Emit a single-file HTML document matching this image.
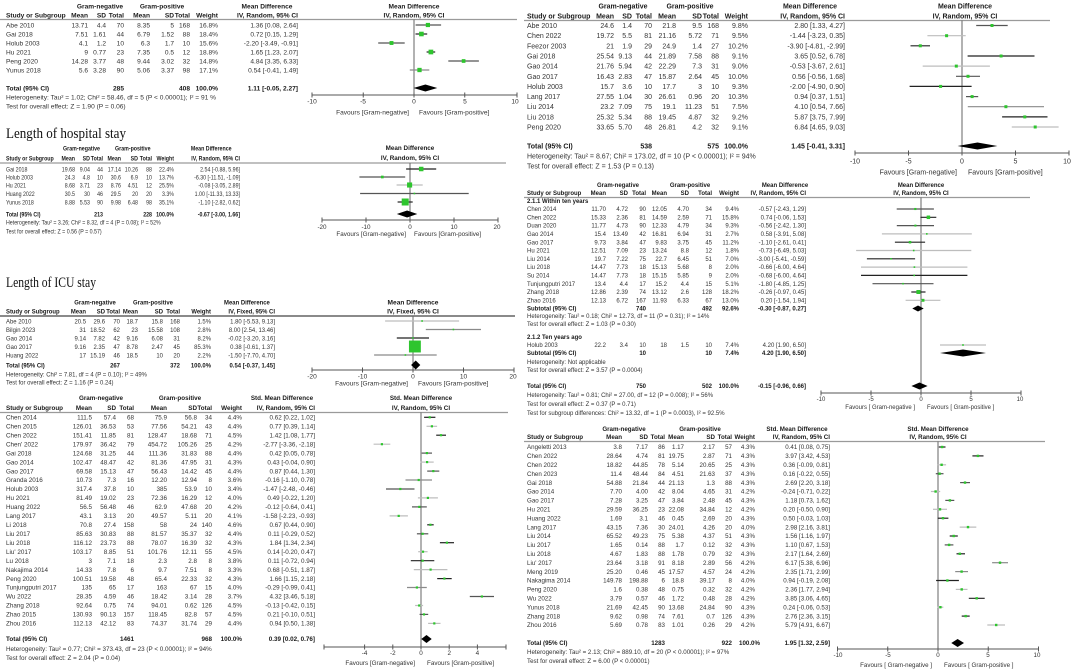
<!DOCTYPE html>
<html><head><meta charset="utf-8"><style>
html,body{margin:0;padding:0;background:#fff;}
svg{display:block}
text{font-family:"Liberation Sans",Arial,sans-serif;fill:#333}
.b{font-weight:bold;fill:#1a1a1a}
.e{text-anchor:end}
.m{text-anchor:middle}
.ti{font-family:"Liberation Serif","Times New Roman",serif;fill:#111;font-weight:normal}
.k{stroke:#222}.d{stroke:#555}.g{stroke:#8a8a8a}.l{stroke:#bdbdbd}
.ci line{stroke-width:1.2}
.sq rect{fill:#2ec52e}
.hd{stroke:#9a9a9a;stroke-width:1.3}
.ax{stroke:#555;stroke-width:1;fill:none}
.z{stroke:#666;stroke-width:1}
.dm{fill:#000}
</style></head><body>
<svg xmlns="http://www.w3.org/2000/svg" width="1080" height="672" viewBox="0 0 1080 672">
<rect width="1080" height="672" fill="#fff"/>

<!-- ================= PANEL A (top-left) ================= -->
<g font-size="6.6">
<text class="b m" y="8.3"><tspan x="100">Gram-negative</tspan><tspan x="162">Gram-positive</tspan><tspan x="267">Mean Difference</tspan><tspan x="414">Mean Difference</tspan></text>
<text class="b" x="6" y="17.3">Study or Subgroup</text>
<text class="b e" y="17.3"><tspan x="88">Mean</tspan><tspan x="106">SD</tspan><tspan x="124">Total</tspan><tspan x="150">Mean</tspan><tspan x="174">SD</tspan><tspan x="190">Total</tspan><tspan x="218">Weight</tspan><tspan x="298">IV, Random, 95% CI</tspan></text>
<text class="b m" x="414" y="17.3">IV, Random, 95% CI</text>

<text x="6" y="27.3">Abe 2010</text><text class="e" y="27.3"><tspan x="88">13.71</tspan><tspan x="106">4.4</tspan><tspan x="124">70</tspan><tspan x="150">8.35</tspan><tspan x="174">5</tspan><tspan x="190">168</tspan><tspan x="218">16.8%</tspan><tspan x="298">1.36 [0.08, 2.64]</tspan></text>
<text x="6" y="36.3">Gai 2018</text><text class="e" y="36.3"><tspan x="88">7.51</tspan><tspan x="106">1.61</tspan><tspan x="124">44</tspan><tspan x="150">6.79</tspan><tspan x="174">1.52</tspan><tspan x="190">88</tspan><tspan x="218">18.4%</tspan><tspan x="298">0.72 [0.15, 1.29]</tspan></text>
<text x="6" y="45.3">Holub 2003</text><text class="e" y="45.3"><tspan x="88">4.1</tspan><tspan x="106">1.2</tspan><tspan x="124">10</tspan><tspan x="150">6.3</tspan><tspan x="174">1.7</tspan><tspan x="190">10</tspan><tspan x="218">15.6%</tspan><tspan x="298">-2.20 [-3.49, -0.91]</tspan></text>
<text x="6" y="54.3">Hu 2021</text><text class="e" y="54.3"><tspan x="88">9</tspan><tspan x="106">0.77</tspan><tspan x="124">23</tspan><tspan x="150">7.35</tspan><tspan x="174">0.5</tspan><tspan x="190">12</tspan><tspan x="218">18.8%</tspan><tspan x="298">1.65 [1.23, 2.07]</tspan></text>
<text x="6" y="63.3">Peng 2020</text><text class="e" y="63.3"><tspan x="88">14.28</tspan><tspan x="106">3.77</tspan><tspan x="124">48</tspan><tspan x="150">9.44</tspan><tspan x="174">3.02</tspan><tspan x="190">32</tspan><tspan x="218">14.8%</tspan><tspan x="298">4.84 [3.35, 6.33]</tspan></text>
<text x="6" y="72.3">Yunus 2018</text><text class="e" y="72.3"><tspan x="88">5.6</tspan><tspan x="106">3.28</tspan><tspan x="124">90</tspan><tspan x="150">5.06</tspan><tspan x="174">3.37</tspan><tspan x="190">98</tspan><tspan x="218">17.1%</tspan><tspan x="298">0.54 [-0.41, 1.49]</tspan></text>
<text class="b" x="6" y="90.3">Total (95% CI)</text><text class="b e" y="90.3"><tspan x="124">285</tspan><tspan x="190">408</tspan><tspan x="218">100.0%</tspan><tspan x="298">1.11 [-0.05, 2.27]</tspan></text>
<text x="6" y="99.3">Heterogeneity: Tau² = 1.02; Chi² = 58.46, df = 5 (P &lt; 0.00001); I² = 91 %</text>
<text x="6" y="108.3">Test for overall effect: Z = 1.90 (P = 0.06)</text>

<text class="m" y="103.3"><tspan x="312">-10</tspan><tspan x="363">-5</tspan><tspan x="414">0</tspan><tspan x="465">5</tspan><tspan x="515">10</tspan></text>
<text class="e" x="409" y="114.3">Favours [Gram-negative]</text>
<text x="419" y="114.3">Favours [Gram-positive]</text>
</g>
<line class="hd" x1="0" y1="19.5" x2="517" y2="19.5"/>
<line class="z" x1="414" y1="19.5" x2="414" y2="95"/>
<path class="ax" d="M312 95H517M312 92.5V97.5M363.25 92.5V97.5M414 92.5V97.5M464.75 92.5V97.5M517 92.5V97.5"/>
<g class="ci">
<line class="d" x1="415.6" y1="25" x2="441.1" y2="25"/>
<line class="k" x1="415.5" y1="34" x2="427.2" y2="34"/>
<line class="d" x1="378.2" y1="43" x2="404.7" y2="43"/>
<line class="k" x1="426.6" y1="52" x2="435.2" y2="52"/>
<line class="d" x1="448.3" y1="61" x2="478.9" y2="61"/>
<line class="g" x1="409.8" y1="70" x2="429.3" y2="70"/>
</g>
<g class="sq">
<rect x="425.8" y="22.9" width="4.2" height="4.2"/>
<rect x="419.1" y="31.7" width="4.6" height="4.6"/>
<rect x="389.55" y="41.05" width="3.9" height="3.9"/>
<rect x="428.55" y="49.65" width="4.7" height="4.7"/>
<rect x="461.75" y="59.15" width="3.7" height="3.7"/>
<rect x="417.35" y="67.85" width="4.3" height="4.3"/>
</g>
<path class="dm" d="M413.5 88L425.4 84.5L437.3 88L425.4 91.5Z"/>

<!-- ================= PANEL B (hospital stay) ================= -->
<text class="ti" x="6" y="138" font-size="15" textLength="120" lengthAdjust="spacingAndGlyphs">Length of hospital stay</text>
<g font-size="6.6" transform="scale(0.8 1)">
<text class="b m" y="150.3"><tspan x="101.9">Gram-negative</tspan><tspan x="166">Gram-positive</tspan><tspan x="264">Mean Difference</tspan></text>
<text class="b" x="7.5" y="160.3">Study or Subgroup</text>
<text class="b e" y="160.3"><tspan x="93.75">Mean</tspan><tspan x="112.5">SD</tspan><tspan x="128.75">Total</tspan><tspan x="151.25">Mean</tspan><tspan x="172.5">SD</tspan><tspan x="190">Total</tspan><tspan x="217.5">Weight</tspan><tspan x="300">IV, Random, 95% CI</tspan></text>

<text x="7.5" y="171.3">Gai 2018</text><text class="e" y="171.3"><tspan x="93.75">19.68</tspan><tspan x="112.5">9.04</tspan><tspan x="128.75">44</tspan><tspan x="151.25">17.14</tspan><tspan x="172.5">10.26</tspan><tspan x="190">88</tspan><tspan x="217.5">22.4%</tspan><tspan x="300">2.54 [-0.88, 5.96]</tspan></text>
<text x="7.5" y="179.3">Holub 2003</text><text class="e" y="179.3"><tspan x="93.75">24.3</tspan><tspan x="112.5">4.8</tspan><tspan x="128.75">10</tspan><tspan x="151.25">30.6</tspan><tspan x="172.5">6.9</tspan><tspan x="190">10</tspan><tspan x="217.5">13.7%</tspan><tspan x="300">-6.30 [-11.51, -1.09]</tspan></text>
<text x="7.5" y="187.3">Hu 2021</text><text class="e" y="187.3"><tspan x="93.75">8.68</tspan><tspan x="112.5">3.71</tspan><tspan x="128.75">23</tspan><tspan x="151.25">8.76</tspan><tspan x="172.5">4.51</tspan><tspan x="190">12</tspan><tspan x="217.5">25.5%</tspan><tspan x="300">-0.08 [-3.05, 2.89]</tspan></text>
<text x="7.5" y="195.8">Huang 2022</text><text class="e" y="195.8"><tspan x="93.75">30.5</tspan><tspan x="112.5">30</tspan><tspan x="128.75">46</tspan><tspan x="151.25">29.5</tspan><tspan x="172.5">20</tspan><tspan x="190">20</tspan><tspan x="217.5">3.3%</tspan><tspan x="300">1.00 [-11.33, 13.33]</tspan></text>
<text x="7.5" y="204.3">Yunus 2018</text><text class="e" y="204.3"><tspan x="93.75">8.88</tspan><tspan x="112.5">5.53</tspan><tspan x="128.75">90</tspan><tspan x="151.25">9.98</tspan><tspan x="172.5">6.48</tspan><tspan x="190">98</tspan><tspan x="217.5">35.1%</tspan><tspan x="300">-1.10 [-2.82, 0.62]</tspan></text>
<text class="b" x="7.5" y="216.3">Total (95% CI)</text><text class="b e" y="216.3"><tspan x="128.75">213</tspan><tspan x="190">228</tspan><tspan x="217.5">100.0%</tspan><tspan x="300">-0.67 [-3.00, 1.66]</tspan></text>
<text x="7.5" y="224.3">Heterogeneity: Tau² = 3.26; Chi² = 8.32, df = 4 (P = 0.08); I² = 52%</text>
<text x="7.5" y="233.3">Test for overall effect: Z = 0.56 (P = 0.57)</text>
</g>
<g font-size="6.3">
<text class="b m" x="410" y="150.2">Mean Difference</text>
<text class="b m" x="410" y="160.2">IV, Random, 95% CI</text>
<text class="m" y="229.1"><tspan x="322">-20</tspan><tspan x="366">-10</tspan><tspan x="410">0</tspan><tspan x="454">10</tspan><tspan x="497">20</tspan></text>
<text class="e" x="406" y="236.1">Favours [Gram-negative]</text>
<text x="414" y="236.1">Favours [Gram-positive]</text>
</g>
<line class="hd" x1="0" y1="163" x2="506" y2="163"/>
<line class="z" x1="410" y1="163" x2="410" y2="220"/>
<path class="ax" d="M322 220H498M322 217.5V222.5M366 217.5V222.5M410 217.5V222.5M454 217.5V222.5M498 217.5V222.5"/>
<g class="ci">
<line class="k" x1="406.1" y1="169" x2="436.2" y2="169"/>
<line class="d" x1="359.4" y1="177" x2="405.2" y2="177"/>
<line class="l" x1="396.6" y1="185" x2="422.7" y2="185"/>
<line class="d" x1="360.1" y1="193.5" x2="468.7" y2="193.5"/>
<line class="k" x1="397.6" y1="202" x2="412.7" y2="202"/>
</g>
<g class="sq">
<rect x="418.95" y="166.75" width="4.5" height="4.5"/>
<rect x="380.95" y="175.65" width="2.7" height="2.7"/>
<rect x="407.05" y="182.45" width="5.1" height="5.1"/>
<rect x="413.6" y="192.7" width="1.6" height="1.6"/>
<rect x="401.7" y="198.5" width="7" height="7"/>
</g>
<path class="dm" d="M396.8 214L407.1 210.5L417.3 214L407.1 217.5Z"/>

<!-- ================= PANEL C (ICU stay) ================= -->
<text class="ti" x="6" y="287" font-size="15" textLength="90" lengthAdjust="spacingAndGlyphs">Length of ICU stay</text>
<g font-size="6.6" transform="scale(0.9 1)">
<text class="b m" y="304.3"><tspan x="105.6">Gram-negative</tspan><tspan x="170">Gram-positive</tspan><tspan x="274.4">Mean Difference</tspan></text>
<text class="b" x="6.67" y="313.3">Study or Subgroup</text>
<text class="b e" y="313.3"><tspan x="95.56">Mean</tspan><tspan x="116.67">SD</tspan><tspan x="133.33">Total</tspan><tspan x="153.33">Mean</tspan><tspan x="181.11">SD</tspan><tspan x="200">Total</tspan><tspan x="234.44">Weight</tspan><tspan x="305.56">IV, Fixed, 95% CI</tspan></text>

<text x="6.67" y="323.3">Abe 2010</text><text class="e" y="323.3"><tspan x="95.56">20.5</tspan><tspan x="116.67">29.6</tspan><tspan x="133.33">70</tspan><tspan x="153.33">18.7</tspan><tspan x="181.11">15.8</tspan><tspan x="200">168</tspan><tspan x="234.44">1.5%</tspan><tspan x="305.56">1.80 [-5.53, 9.13]</tspan></text>
<text x="6.67" y="331.8">Bilgin 2023</text><text class="e" y="331.8"><tspan x="95.56">31</tspan><tspan x="116.67">18.52</tspan><tspan x="133.33">62</tspan><tspan x="153.33">23</tspan><tspan x="181.11">15.58</tspan><tspan x="200">108</tspan><tspan x="234.44">2.8%</tspan><tspan x="305.56">8.00 [2.54, 13.46]</tspan></text>
<text x="6.67" y="340.3">Gao 2014</text><text class="e" y="340.3"><tspan x="95.56">9.14</tspan><tspan x="116.67">7.82</tspan><tspan x="133.33">42</tspan><tspan x="153.33">9.16</tspan><tspan x="181.11">6.08</tspan><tspan x="200">31</tspan><tspan x="234.44">8.2%</tspan><tspan x="305.56">-0.02 [-3.20, 3.16]</tspan></text>
<text x="6.67" y="348.8">Gao 2017</text><text class="e" y="348.8"><tspan x="95.56">9.16</tspan><tspan x="116.67">2.35</tspan><tspan x="133.33">47</tspan><tspan x="153.33">8.78</tspan><tspan x="181.11">2.47</tspan><tspan x="200">45</tspan><tspan x="234.44">85.3%</tspan><tspan x="305.56">0.38 [-0.61, 1.37]</tspan></text>
<text x="6.67" y="357.3">Huang 2022</text><text class="e" y="357.3"><tspan x="95.56">17</tspan><tspan x="116.67">15.19</tspan><tspan x="133.33">46</tspan><tspan x="153.33">18.5</tspan><tspan x="181.11">10</tspan><tspan x="200">20</tspan><tspan x="234.44">2.2%</tspan><tspan x="305.56">-1.50 [-7.70, 4.70]</tspan></text>
<text class="b" x="6.67" y="367.3">Total (95% CI)</text><text class="b e" y="367.3"><tspan x="133.33">267</tspan><tspan x="200">372</tspan><tspan x="234.44">100.0%</tspan><tspan x="305.56">0.54 [-0.37, 1.45]</tspan></text>
<text x="6.67" y="376.3">Heterogeneity: Chi² = 7.81, df = 4 (P = 0.10); I² = 49%</text>
<text x="6.67" y="384.3">Test for overall effect: Z = 1.16 (P = 0.24)</text>
</g>
<g font-size="6.6">
<text class="b m" x="413" y="304.3">Mean Difference</text>
<text class="b m" x="413" y="313.3">IV, Fixed, 95% CI</text>
<text class="m" y="378.3"><tspan x="312">-20</tspan><tspan x="362.5">-10</tspan><tspan x="413">0</tspan><tspan x="463.5">10</tspan><tspan x="513">20</tspan></text>
<text class="e" x="408" y="385.5">Favours [Gram-negative]</text>
<text x="418" y="385.5">Favours [Gram-positive]</text>
</g>
<line x1="0" y1="316" x2="515" y2="316" stroke="#444" stroke-width="1.2"/>
<line class="z" x1="413" y1="316" x2="413" y2="370"/>
<path class="ax" d="M312 370H514M312 367.5V372.5M362.5 367.5V372.5M413 367.5V372.5M463.5 367.5V372.5M514 367.5V372.5"/>
<g class="ci">
<line class="l" x1="385.1" y1="321" x2="459.1" y2="321"/>
<line class="g" x1="425.8" y1="329.5" x2="481" y2="329.5"/>
<line class="k" x1="396.8" y1="338" x2="429" y2="338"/>
<line class="g" x1="409.9" y1="346.5" x2="419.9" y2="346.5"/>
<line class="g" x1="374.1" y1="355" x2="436.7" y2="355"/>
</g>
<g class="sq">
<rect x="421.3" y="320.2" width="1.6" height="1.6"/>
<rect x="452.6" y="328.7" width="1.6" height="1.6"/>
<rect x="412.1" y="337.2" width="1.6" height="1.6"/>
<rect x="408.95" y="340.55" width="11.9" height="11.9"/>
<rect x="404.6" y="354.2" width="1.6" height="1.6"/>
</g>
<path class="dm" d="M411.1 365L415.7 360.5L420.3 365L415.7 369.5Z"/>

<!-- ================= PANEL D (bottom-left) ================= -->
<g font-size="6.3">
<text class="b m" y="400.2"><tspan x="101">Gram-negative</tspan><tspan x="180">Gram-positive</tspan><tspan x="282">Std. Mean Difference</tspan><tspan x="421">Std. Mean Difference</tspan></text>
<text class="b" x="6" y="410.2">Study or Subgroup</text>
<text class="b e" y="410.2"><tspan x="92">Mean</tspan><tspan x="116">SD</tspan><tspan x="134">Total</tspan><tspan x="167">Mean</tspan><tspan x="197">SD</tspan><tspan x="212">Total</tspan><tspan x="242">Weight</tspan><tspan x="315">IV, Random, 95% CI</tspan></text>
<text class="b m" x="421" y="410.2">IV, Random, 95% CI</text>

<text x="6" y="419.5">Chen 2014</text><text class="e" y="419.5"><tspan x="92">111.5</tspan><tspan x="116">57.4</tspan><tspan x="134">68</tspan><tspan x="167">75.9</tspan><tspan x="197">56.8</tspan><tspan x="212">34</tspan><tspan x="242">4.4%</tspan><tspan x="315">0.62 [0.22, 1.02]</tspan></text>
<text x="6" y="428.5">Chen 2015</text><text class="e" y="428.5"><tspan x="92">126.01</tspan><tspan x="116">36.53</tspan><tspan x="134">53</tspan><tspan x="167">77.56</tspan><tspan x="197">54.21</tspan><tspan x="212">43</tspan><tspan x="242">4.4%</tspan><tspan x="315">0.77 [0.39, 1.14]</tspan></text>
<text x="6" y="437.4">Chen 2022</text><text class="e" y="437.4"><tspan x="92">151.41</tspan><tspan x="116">11.85</tspan><tspan x="134">81</tspan><tspan x="167">128.47</tspan><tspan x="197">18.68</tspan><tspan x="212">71</tspan><tspan x="242">4.5%</tspan><tspan x="315">1.42 [1.08, 1.77]</tspan></text>
<text x="6" y="446.4">Chen' 2022</text><text class="e" y="446.4"><tspan x="92">179.97</tspan><tspan x="116">36.42</tspan><tspan x="134">79</tspan><tspan x="167">454.72</tspan><tspan x="197">105.26</tspan><tspan x="212">25</tspan><tspan x="242">4.2%</tspan><tspan x="315">-2.77 [-3.36, -2.18]</tspan></text>
<text x="6" y="455.3">Gai 2018</text><text class="e" y="455.3"><tspan x="92">124.68</tspan><tspan x="116">31.25</tspan><tspan x="134">44</tspan><tspan x="167">111.36</tspan><tspan x="197">31.83</tspan><tspan x="212">88</tspan><tspan x="242">4.4%</tspan><tspan x="315">0.42 [0.05, 0.78]</tspan></text>
<text x="6" y="464.3">Gao 2014</text><text class="e" y="464.3"><tspan x="92">102.47</tspan><tspan x="116">48.47</tspan><tspan x="134">42</tspan><tspan x="167">81.36</tspan><tspan x="197">47.95</tspan><tspan x="212">31</tspan><tspan x="242">4.3%</tspan><tspan x="315">0.43 [-0.04, 0.90]</tspan></text>
<text x="6" y="473.3">Gao 2017</text><text class="e" y="473.3"><tspan x="92">69.58</tspan><tspan x="116">15.13</tspan><tspan x="134">47</tspan><tspan x="167">56.43</tspan><tspan x="197">14.42</tspan><tspan x="212">45</tspan><tspan x="242">4.4%</tspan><tspan x="315">0.87 [0.44, 1.30]</tspan></text>
<text x="6" y="482.2">Granda 2016</text><text class="e" y="482.2"><tspan x="92">10.73</tspan><tspan x="116">7.3</tspan><tspan x="134">16</tspan><tspan x="167">12.20</tspan><tspan x="197">12.94</tspan><tspan x="212">8</tspan><tspan x="242">3.6%</tspan><tspan x="315">-0.16 [-1.10, 0.78]</tspan></text>
<text x="6" y="491.2">Holub 2003</text><text class="e" y="491.2"><tspan x="92">317.4</tspan><tspan x="116">37.8</tspan><tspan x="134">10</tspan><tspan x="167">385</tspan><tspan x="197">53.9</tspan><tspan x="212">10</tspan><tspan x="242">3.4%</tspan><tspan x="315">-1.47 [-2.48, -0.46]</tspan></text>
<text x="6" y="500.1">Hu 2021</text><text class="e" y="500.1"><tspan x="92">81.49</tspan><tspan x="116">19.02</tspan><tspan x="134">23</tspan><tspan x="167">72.36</tspan><tspan x="197">16.29</tspan><tspan x="212">12</tspan><tspan x="242">4.0%</tspan><tspan x="315">0.49 [-0.22, 1.20]</tspan></text>
<text x="6" y="509.1">Huang 2022</text><text class="e" y="509.1"><tspan x="92">56.5</tspan><tspan x="116">56.48</tspan><tspan x="134">46</tspan><tspan x="167">62.9</tspan><tspan x="197">47.68</tspan><tspan x="212">20</tspan><tspan x="242">4.2%</tspan><tspan x="315">-0.12 [-0.64, 0.41]</tspan></text>
<text x="6" y="518.1">Lang 2017</text><text class="e" y="518.1"><tspan x="92">43.1</tspan><tspan x="116">3.13</tspan><tspan x="134">20</tspan><tspan x="167">49.57</tspan><tspan x="197">5.11</tspan><tspan x="212">20</tspan><tspan x="242">4.1%</tspan><tspan x="315">-1.58 [-2.23, -0.93]</tspan></text>
<text x="6" y="527.0">Li 2018</text><text class="e" y="527.0"><tspan x="92">70.8</tspan><tspan x="116">27.4</tspan><tspan x="134">158</tspan><tspan x="167">58</tspan><tspan x="197">24</tspan><tspan x="212">140</tspan><tspan x="242">4.6%</tspan><tspan x="315">0.67 [0.44, 0.90]</tspan></text>
<text x="6" y="536.0">Liu 2017</text><text class="e" y="536.0"><tspan x="92">85.63</tspan><tspan x="116">30.83</tspan><tspan x="134">88</tspan><tspan x="167">81.57</tspan><tspan x="197">35.37</tspan><tspan x="212">32</tspan><tspan x="242">4.4%</tspan><tspan x="315">0.11 [-0.29, 0.52]</tspan></text>
<text x="6" y="544.9">Liu 2018</text><text class="e" y="544.9"><tspan x="92">116.12</tspan><tspan x="116">23.73</tspan><tspan x="134">88</tspan><tspan x="167">78.07</tspan><tspan x="197">16.39</tspan><tspan x="212">32</tspan><tspan x="242">4.3%</tspan><tspan x="315">1.84 [1.34, 2.34]</tspan></text>
<text x="6" y="553.9">Liu' 2017</text><text class="e" y="553.9"><tspan x="92">103.17</tspan><tspan x="116">8.85</tspan><tspan x="134">51</tspan><tspan x="167">101.76</tspan><tspan x="197">12.11</tspan><tspan x="212">55</tspan><tspan x="242">4.5%</tspan><tspan x="315">0.14 [-0.20, 0.47]</tspan></text>
<text x="6" y="562.9">Lu 2018</text><text class="e" y="562.9"><tspan x="92">3</tspan><tspan x="116">7.1</tspan><tspan x="134">18</tspan><tspan x="167">2.3</tspan><tspan x="197">2.8</tspan><tspan x="212">8</tspan><tspan x="242">3.8%</tspan><tspan x="315">0.11 [-0.72, 0.94]</tspan></text>
<text x="6" y="571.8">Nakajima 2014</text><text class="e" y="571.8"><tspan x="92">14.33</tspan><tspan x="116">7.8</tspan><tspan x="134">6</tspan><tspan x="167">9.7</tspan><tspan x="197">7.51</tspan><tspan x="212">8</tspan><tspan x="242">3.3%</tspan><tspan x="315">0.68 [-0.51, 1.87]</tspan></text>
<text x="6" y="580.8">Peng 2020</text><text class="e" y="580.8"><tspan x="92">100.51</tspan><tspan x="116">19.58</tspan><tspan x="134">48</tspan><tspan x="167">65.4</tspan><tspan x="197">22.33</tspan><tspan x="212">32</tspan><tspan x="242">4.3%</tspan><tspan x="315">1.66 [1.15, 2.18]</tspan></text>
<text x="6" y="589.7">Tunjungputri 2017</text><text class="e" y="589.7"><tspan x="92">135</tspan><tspan x="116">65</tspan><tspan x="134">17</tspan><tspan x="167">163</tspan><tspan x="197">67</tspan><tspan x="212">15</tspan><tspan x="242">4.0%</tspan><tspan x="315">-0.29 [-0.99, 0.41]</tspan></text>
<text x="6" y="598.7">Wu 2022</text><text class="e" y="598.7"><tspan x="92">28.35</tspan><tspan x="116">4.59</tspan><tspan x="134">46</tspan><tspan x="167">18.42</tspan><tspan x="197">3.14</tspan><tspan x="212">28</tspan><tspan x="242">3.7%</tspan><tspan x="315">4.32 [3.46, 5.18]</tspan></text>
<text x="6" y="607.7">Zhang 2018</text><text class="e" y="607.7"><tspan x="92">92.64</tspan><tspan x="116">0.75</tspan><tspan x="134">74</tspan><tspan x="167">94.01</tspan><tspan x="197">0.62</tspan><tspan x="212">126</tspan><tspan x="242">4.5%</tspan><tspan x="315">-0.13 [-0.42, 0.15]</tspan></text>
<text x="6" y="616.6">Zhao 2015</text><text class="e" y="616.6"><tspan x="92">130.93</tspan><tspan x="116">90.13</tspan><tspan x="134">157</tspan><tspan x="167">118.45</tspan><tspan x="197">82.8</tspan><tspan x="212">57</tspan><tspan x="242">4.5%</tspan><tspan x="315">0.21 [-0.10, 0.51]</tspan></text>
<text x="6" y="625.6">Zhou 2016</text><text class="e" y="625.6"><tspan x="92">112.13</tspan><tspan x="116">42.12</tspan><tspan x="134">83</tspan><tspan x="167">74.37</tspan><tspan x="197">31.74</tspan><tspan x="212">29</tspan><tspan x="242">4.4%</tspan><tspan x="315">0.94 [0.50, 1.38]</tspan></text>
<text class="b" x="6" y="641.2">Total (95% CI)</text><text class="b e" y="641.2"><tspan x="134">1461</tspan><tspan x="212">968</tspan><tspan x="242">100.0%</tspan><tspan x="315">0.39 [0.02, 0.76]</tspan></text>
<text x="6" y="651.2">Heterogeneity: Tau² = 0.77; Chi² = 373.43, df = 23 (P &lt; 0.00001); I² = 94%</text>
<text x="6" y="660.2">Test for overall effect: Z = 2.04 (P = 0.04)</text>

<text class="m" y="655.2"><tspan x="364.6">-4</tspan><tspan x="392.8">-2</tspan><tspan x="421">0</tspan><tspan x="449.2">2</tspan><tspan x="477.4">4</tspan></text>
<text class="e" x="415" y="665">Favours [Gram-negative]</text>
<text x="427" y="665">Favours [Gram-positive]</text>
</g>
<line class="hd" x1="0" y1="412.5" x2="508" y2="412.5"/>
<line class="z" x1="421" y1="412.5" x2="421" y2="647"/>
<path class="ax" d="M324 647H506M324 644.5V649.5M364.6 644.5V649.5M392.8 644.5V649.5M421 644.5V649.5M449.2 644.5V649.5M477.4 644.5V649.5M506 644.5V649.5"/>
<g class="ci">
<line class="k" x1="424.1" y1="417.3" x2="435.4" y2="417.3"/>
<line class="l" x1="426.5" y1="426.3" x2="437.1" y2="426.3"/>
<line class="k" x1="436.2" y1="435.2" x2="446.0" y2="435.2"/>
<line class="l" x1="373.6" y1="444.2" x2="390.3" y2="444.2"/>
<line class="d" x1="421.7" y1="453.1" x2="432.0" y2="453.1"/>
<line class="l" x1="420.4" y1="462.1" x2="433.7" y2="462.1"/>
<line class="d" x1="427.2" y1="471.1" x2="439.3" y2="471.1"/>
<line class="g" x1="405.5" y1="480.0" x2="432.0" y2="480.0"/>
<line class="d" x1="386.0" y1="489.0" x2="414.5" y2="489.0" stroke-width="1.6"/>
<line class="l" x1="417.9" y1="497.9" x2="437.9" y2="497.9"/>
<line class="d" x1="412.0" y1="506.9" x2="426.8" y2="506.9"/>
<line class="l" x1="389.6" y1="515.9" x2="407.9" y2="515.9"/>
<line class="k" x1="427.2" y1="524.8" x2="433.7" y2="524.8"/>
<line class="d" x1="416.9" y1="533.8" x2="428.3" y2="533.8"/>
<line class="k" x1="439.9" y1="542.7" x2="454.0" y2="542.7"/>
<line class="l" x1="418.2" y1="551.7" x2="427.6" y2="551.7"/>
<line class="k" x1="410.8" y1="560.7" x2="434.3" y2="560.7"/>
<line class="l" x1="413.8" y1="569.6" x2="447.4" y2="569.6"/>
<line class="k" x1="437.2" y1="578.6" x2="451.7" y2="578.6"/>
<line class="g" x1="407.0" y1="587.5" x2="426.8" y2="587.5"/>
<line class="d" x1="469.8" y1="596.5" x2="494.0" y2="596.5"/>
<line class="l" x1="415.1" y1="605.5" x2="423.1" y2="605.5"/>
<line class="d" x1="419.6" y1="614.4" x2="428.2" y2="614.4"/>
<line class="l" x1="428.1" y1="623.4" x2="440.5" y2="623.4"/>
</g>
<g class="sq">
<rect x="428.6" y="416.2" width="2.2" height="2.2"/>
<rect x="430.8" y="425.2" width="2.2" height="2.2"/>
<rect x="439.9" y="434.1" width="2.2" height="2.2"/>
<rect x="380.8" y="443.1" width="2.2" height="2.2"/>
<rect x="425.8" y="452.0" width="2.2" height="2.2"/>
<rect x="426.0" y="461.0" width="2.2" height="2.2"/>
<rect x="432.2" y="470.0" width="2.2" height="2.2"/>
<rect x="417.6" y="478.9" width="2.2" height="2.2"/>
<rect x="399.2" y="487.9" width="2.2" height="2.2"/>
<rect x="426.8" y="496.8" width="2.2" height="2.2"/>
<rect x="418.2" y="505.8" width="2.2" height="2.2"/>
<rect x="397.6" y="514.8" width="2.2" height="2.2"/>
<rect x="429.3" y="523.7" width="2.2" height="2.2"/>
<rect x="421.5" y="532.7" width="2.2" height="2.2"/>
<rect x="445.8" y="541.6" width="2.2" height="2.2"/>
<rect x="421.9" y="550.6" width="2.2" height="2.2"/>
<rect x="421.5" y="559.6" width="2.2" height="2.2"/>
<rect x="429.5" y="568.5" width="2.2" height="2.2"/>
<rect x="443.3" y="577.5" width="2.2" height="2.2"/>
<rect x="415.8" y="586.4" width="2.2" height="2.2"/>
<rect x="480.8" y="595.4" width="2.2" height="2.2"/>
<rect x="418.1" y="604.4" width="2.2" height="2.2"/>
<rect x="422.9" y="613.3" width="2.2" height="2.2"/>
<rect x="433.2" y="622.3" width="2.2" height="2.2"/>
</g>
<path class="dm" d="M421.3 639L426.5 635L431.7 639L426.5 643Z"/>

<!-- ================= PANEL E (top-right) ================= -->
<g font-size="7">
<text class="b m" y="8.5"><tspan x="623">Gram-negative</tspan><tspan x="690">Gram-positive</tspan><tspan x="810">Mean Difference</tspan><tspan x="965">Mean Difference</tspan></text>
<text class="b" x="527" y="18.5">Study or Subgroup</text>
<text class="b e" y="18.5"><tspan x="614">Mean</tspan><tspan x="632">SD</tspan><tspan x="652">Total</tspan><tspan x="676">Mean</tspan><tspan x="702">SD</tspan><tspan x="719">Total</tspan><tspan x="748">Weight</tspan><tspan x="845">IV, Random, 95% CI</tspan></text>
<text class="b m" x="965" y="18.5">IV, Random, 95% CI</text>

<text x="527" y="28">Abe 2010</text><text class="e" y="28"><tspan x="614">24.6</tspan><tspan x="632">1.4</tspan><tspan x="652">70</tspan><tspan x="676">21.8</tspan><tspan x="702">9.5</tspan><tspan x="719">168</tspan><tspan x="748">9.8%</tspan><tspan x="845">2.80 [1.33, 4.27]</tspan></text>
<text x="527" y="38.2">Chen 2022</text><text class="e" y="38.2"><tspan x="614">19.72</tspan><tspan x="632">5.5</tspan><tspan x="652">81</tspan><tspan x="676">21.16</tspan><tspan x="702">5.72</tspan><tspan x="719">71</tspan><tspan x="748">9.5%</tspan><tspan x="845">-1.44 [-3.23, 0.35]</tspan></text>
<text x="527" y="48.3">Feezor 2003</text><text class="e" y="48.3"><tspan x="614">21</tspan><tspan x="632">1.9</tspan><tspan x="652">29</tspan><tspan x="676">24.9</tspan><tspan x="702">1.4</tspan><tspan x="719">27</tspan><tspan x="748">10.2%</tspan><tspan x="845">-3.90 [-4.81, -2.99]</tspan></text>
<text x="527" y="58.5">Gai 2018</text><text class="e" y="58.5"><tspan x="614">25.54</tspan><tspan x="632">9.13</tspan><tspan x="652">44</tspan><tspan x="676">21.89</tspan><tspan x="702">7.58</tspan><tspan x="719">88</tspan><tspan x="748">9.1%</tspan><tspan x="845">3.65 [0.52, 6.78]</tspan></text>
<text x="527" y="68.6">Gao 2014</text><text class="e" y="68.6"><tspan x="614">21.76</tspan><tspan x="632">5.94</tspan><tspan x="652">42</tspan><tspan x="676">22.29</tspan><tspan x="702">7.3</tspan><tspan x="719">31</tspan><tspan x="748">9.0%</tspan><tspan x="845">-0.53 [-3.67, 2.61]</tspan></text>
<text x="527" y="78.8">Gao 2017</text><text class="e" y="78.8"><tspan x="614">16.43</tspan><tspan x="632">2.83</tspan><tspan x="652">47</tspan><tspan x="676">15.87</tspan><tspan x="702">2.64</tspan><tspan x="719">45</tspan><tspan x="748">10.0%</tspan><tspan x="845">0.56 [-0.56, 1.68]</tspan></text>
<text x="527" y="88.9">Holub 2003</text><text class="e" y="88.9"><tspan x="614">15.7</tspan><tspan x="632">3.6</tspan><tspan x="652">10</tspan><tspan x="676">17.7</tspan><tspan x="702">3</tspan><tspan x="719">10</tspan><tspan x="748">9.3%</tspan><tspan x="845">-2.00 [-4.90, 0.90]</tspan></text>
<text x="527" y="99.1">Lang 2017</text><text class="e" y="99.1"><tspan x="614">27.55</tspan><tspan x="632">1.04</tspan><tspan x="652">30</tspan><tspan x="676">26.61</tspan><tspan x="702">0.96</tspan><tspan x="719">20</tspan><tspan x="748">10.3%</tspan><tspan x="845">0.94 [0.37, 1.51]</tspan></text>
<text x="527" y="109.2">Liu 2014</text><text class="e" y="109.2"><tspan x="614">23.2</tspan><tspan x="632">7.09</tspan><tspan x="652">75</tspan><tspan x="676">19.1</tspan><tspan x="702">11.23</tspan><tspan x="719">51</tspan><tspan x="748">7.5%</tspan><tspan x="845">4.10 [0.54, 7.66]</tspan></text>
<text x="527" y="119.4">Liu 2018</text><text class="e" y="119.4"><tspan x="614">25.32</tspan><tspan x="632">5.34</tspan><tspan x="652">88</tspan><tspan x="676">19.45</tspan><tspan x="702">4.87</tspan><tspan x="719">32</tspan><tspan x="748">9.2%</tspan><tspan x="845">5.87 [3.75, 7.99]</tspan></text>
<text x="527" y="129.5">Peng 2020</text><text class="e" y="129.5"><tspan x="614">33.65</tspan><tspan x="632">5.70</tspan><tspan x="652">48</tspan><tspan x="676">26.81</tspan><tspan x="702">4.2</tspan><tspan x="719">32</tspan><tspan x="748">9.1%</tspan><tspan x="845">6.84 [4.65, 9.03]</tspan></text>
<text class="b" x="527" y="148.5">Total (95% CI)</text><text class="b e" y="148.5"><tspan x="652">538</tspan><tspan x="719">575</tspan><tspan x="748">100.0%</tspan><tspan x="845">1.45 [-0.41, 3.31]</tspan></text>
<text x="527" y="158.5">Heterogeneity: Tau² = 8.67; Chi² = 173.02, df = 10 (P &lt; 0.00001); I² = 94%</text>
<text x="527" y="168.5">Test for overall effect: Z = 1.53 (P = 0.13)</text>

<text class="m" y="163.5"><tspan x="855">-10</tspan><tspan x="908.5">-5</tspan><tspan x="962">0</tspan><tspan x="1015.5">5</tspan><tspan x="1067">10</tspan></text>
<text class="e" x="957" y="174.5">Favours [Gram-negative]</text>
<text x="968" y="174.5">Favours [Gram-positive]</text>
</g>
<line class="hd" x1="524" y1="20.5" x2="1050" y2="20.5"/>
<line class="z" x1="962" y1="20.5" x2="962" y2="153"/>
<path class="ax" d="M855 153H1069M855 150.5V155.5M908.5 150.5V155.5M962 150.5V155.5M1015.5 150.5V155.5M1069 150.5V155.5"/>
<g class="ci">
<line class="d" x1="976.2" y1="25.5" x2="1007.7" y2="25.5"/>
<line class="l" x1="927.4" y1="35.7" x2="965.7" y2="35.7"/>
<line class="k" x1="910.5" y1="45.8" x2="930.0" y2="45.8"/>
<line class="k" x1="967.6" y1="56.0" x2="1034.5" y2="56.0"/>
<line class="l" x1="922.7" y1="66.1" x2="989.9" y2="66.1"/>
<line class="d" x1="956.0" y1="76.3" x2="980.0" y2="76.3"/>
<line class="k" x1="909.6" y1="86.4" x2="971.6" y2="86.4"/>
<line class="d" x1="966.0" y1="96.6" x2="978.2" y2="96.6"/>
<line class="g" x1="967.8" y1="106.7" x2="1044.0" y2="106.7"/>
<line class="k" x1="1002.1" y1="116.9" x2="1047.5" y2="116.9"/>
<line class="l" x1="1011.8" y1="127.0" x2="1058.6" y2="127.0"/>
</g>
<g class="sq">
<rect x="990.5" y="24.0" width="3" height="3"/>
<rect x="945.1" y="34.2" width="3" height="3"/>
<rect x="918.8" y="44.3" width="3" height="3"/>
<rect x="999.6" y="54.5" width="3" height="3"/>
<rect x="954.8" y="64.6" width="3" height="3"/>
<rect x="966.5" y="74.8" width="3" height="3"/>
<rect x="939.1" y="84.9" width="3" height="3"/>
<rect x="970.6" y="95.1" width="3" height="3"/>
<rect x="1004.4" y="105.2" width="3" height="3"/>
<rect x="1023.3" y="115.4" width="3" height="3"/>
<rect x="1033.7" y="125.5" width="3" height="3"/>
</g>
<path class="dm" d="M957.6 146L977.5 142.5L997.4 146L977.5 149.5Z"/>

<!-- ================= PANEL F (middle-right, subgroups) ================= -->
<g font-size="6">
<text class="b m" y="187.1"><tspan x="618">Gram-negative</tspan><tspan x="690">Gram-positive</tspan><tspan x="785">Mean Difference</tspan><tspan x="921">Mean Difference</tspan></text>
<text class="b" x="527" y="195.1">Study or Subgroup</text>
<text class="b e" y="195.1"><tspan x="606">Mean</tspan><tspan x="628">SD</tspan><tspan x="646">Total</tspan><tspan x="667">Mean</tspan><tspan x="689">SD</tspan><tspan x="712">Total</tspan><tspan x="739">Weight</tspan><tspan x="806">IV, Random, 95% CI</tspan></text>
<text class="b m" x="921" y="195.1">IV, Random, 95% CI</text>
<text class="b" x="527" y="203.1">2.1.1 Within ten years</text>

<text x="527" y="211.1">Chen 2014</text><text class="e" y="211.1"><tspan x="606">11.70</tspan><tspan x="628">4.72</tspan><tspan x="646">90</tspan><tspan x="667">12.05</tspan><tspan x="689">4.70</tspan><tspan x="712">34</tspan><tspan x="739">9.4%</tspan><tspan x="806">-0.57 [-2.43, 1.29]</tspan></text>
<text x="527" y="219.4">Chen 2022</text><text class="e" y="219.4"><tspan x="606">15.33</tspan><tspan x="628">2.36</tspan><tspan x="646">81</tspan><tspan x="667">14.59</tspan><tspan x="689">2.59</tspan><tspan x="712">71</tspan><tspan x="739">15.8%</tspan><tspan x="806">0.74 [-0.06, 1.53]</tspan></text>
<text x="527" y="227.7">Duan 2020</text><text class="e" y="227.7"><tspan x="606">11.77</tspan><tspan x="628">4.73</tspan><tspan x="646">90</tspan><tspan x="667">12.33</tspan><tspan x="689">4.79</tspan><tspan x="712">34</tspan><tspan x="739">9.3%</tspan><tspan x="806">-0.56 [-2.42, 1.30]</tspan></text>
<text x="527" y="236.0">Gao 2014</text><text class="e" y="236.0"><tspan x="606">15.4</tspan><tspan x="628">13.49</tspan><tspan x="646">42</tspan><tspan x="667">16.81</tspan><tspan x="689">6.94</tspan><tspan x="712">31</tspan><tspan x="739">2.7%</tspan><tspan x="806">0.58 [-3.91, 5.08]</tspan></text>
<text x="527" y="244.3">Gao 2017</text><text class="e" y="244.3"><tspan x="606">9.73</tspan><tspan x="628">3.84</tspan><tspan x="646">47</tspan><tspan x="667">9.83</tspan><tspan x="689">3.75</tspan><tspan x="712">45</tspan><tspan x="739">11.2%</tspan><tspan x="806">-1.10 [-2.61, 0.41]</tspan></text>
<text x="527" y="252.6">Hu 2021</text><text class="e" y="252.6"><tspan x="606">12.51</tspan><tspan x="628">7.09</tspan><tspan x="646">23</tspan><tspan x="667">13.24</tspan><tspan x="689">8.8</tspan><tspan x="712">12</tspan><tspan x="739">1.8%</tspan><tspan x="806">-0.73 [-6.49, 5.03]</tspan></text>
<text x="527" y="260.9">Liu 2014</text><text class="e" y="260.9"><tspan x="606">19.7</tspan><tspan x="628">7.22</tspan><tspan x="646">75</tspan><tspan x="667">22.7</tspan><tspan x="689">6.45</tspan><tspan x="712">51</tspan><tspan x="739">7.0%</tspan><tspan x="806">-3.00 [-5.41, -0.59]</tspan></text>
<text x="527" y="269.2">Liu 2018</text><text class="e" y="269.2"><tspan x="606">14.47</tspan><tspan x="628">7.73</tspan><tspan x="646">18</tspan><tspan x="667">15.13</tspan><tspan x="689">5.68</tspan><tspan x="712">8</tspan><tspan x="739">2.0%</tspan><tspan x="806">-0.66 [-6.00, 4.64]</tspan></text>
<text x="527" y="277.5">Su 2014</text><text class="e" y="277.5"><tspan x="606">14.47</tspan><tspan x="628">7.73</tspan><tspan x="646">18</tspan><tspan x="667">15.15</tspan><tspan x="689">5.85</tspan><tspan x="712">9</tspan><tspan x="739">2.0%</tspan><tspan x="806">-0.68 [-6.00, 4.64]</tspan></text>
<text x="527" y="285.8">Tunjungputri 2017</text><text class="e" y="285.8"><tspan x="606">13.4</tspan><tspan x="628">4.4</tspan><tspan x="646">17</tspan><tspan x="667">15.2</tspan><tspan x="689">4.4</tspan><tspan x="712">15</tspan><tspan x="739">5.1%</tspan><tspan x="806">-1.80 [-4.85, 1.25]</tspan></text>
<text x="527" y="294.1">Zhang 2018</text><text class="e" y="294.1"><tspan x="606">12.86</tspan><tspan x="628">2.39</tspan><tspan x="646">74</tspan><tspan x="667">13.12</tspan><tspan x="689">2.6</tspan><tspan x="712">128</tspan><tspan x="739">18.2%</tspan><tspan x="806">-0.26 [-0.97, 0.45]</tspan></text>
<text x="527" y="302.4">Zhao 2016</text><text class="e" y="302.4"><tspan x="606">12.13</tspan><tspan x="628">6.72</tspan><tspan x="646">167</tspan><tspan x="667">11.93</tspan><tspan x="689">6.33</tspan><tspan x="712">67</tspan><tspan x="739">13.0%</tspan><tspan x="806">0.20 [-1.54, 1.94]</tspan></text>
<text class="b" x="527" y="310.6">Subtotal (95% CI)</text><text class="b e" y="310.6"><tspan x="646">740</tspan><tspan x="712">492</tspan><tspan x="739">92.6%</tspan><tspan x="806">-0.30 [-0.87, 0.27]</tspan></text>
<text x="527" y="318.1">Heterogeneity: Tau² = 0.18; Chi² = 12.73, df = 11 (P = 0.31); I² = 14%</text>
<text x="527" y="326.1">Test for overall effect: Z = 1.03 (P = 0.30)</text>

<text class="b" x="527" y="339.1">2.1.2 Ten years ago</text>
<text x="527" y="347.1">Holub 2003</text><text class="e" y="347.1"><tspan x="606">22.2</tspan><tspan x="628">3.4</tspan><tspan x="646">10</tspan><tspan x="667">18</tspan><tspan x="689">1.5</tspan><tspan x="712">10</tspan><tspan x="739">7.4%</tspan><tspan x="806">4.20 [1.90, 6.50]</tspan></text>
<text class="b" x="527" y="355.1">Subtotal (95% CI)</text><text class="b e" y="355.1"><tspan x="646">10</tspan><tspan x="712">10</tspan><tspan x="739">7.4%</tspan><tspan x="806">4.20 [1.90, 6.50]</tspan></text>
<text x="527" y="364.1">Heterogeneity: Not applicable</text>
<text x="527" y="372.1">Test for overall effect: Z = 3.57 (P = 0.0004)</text>

<text class="b" x="527" y="388.1">Total (95% CI)</text><text class="b e" y="388.1"><tspan x="646">750</tspan><tspan x="712">502</tspan><tspan x="739">100.0%</tspan><tspan x="806">-0.15 [-0.96, 0.66]</tspan></text>
<text x="527" y="397.1">Heterogeneity: Tau² = 0.81; Chi² = 27.00, df = 12 (P = 0.008); I² = 56%</text>
<text x="527" y="406.1">Test for overall effect: Z = 0.37 (P = 0.71)</text>
<text x="527" y="415.1">Test for subgroup differences: Chi² = 13.32, df = 1 (P = 0.0003), I² = 92.5%</text>

<text class="m" y="401.1"><tspan x="821">-10</tspan><tspan x="871">-5</tspan><tspan x="921">0</tspan><tspan x="971">5</tspan><tspan x="1020">10</tspan></text>
<text class="e" x="915" y="409.1">Favours [ Gram-negative ]</text>
<text x="927" y="409.1">Favours [ Gram-positive ]</text>
</g>
<line class="hd" x1="524" y1="197.5" x2="1030" y2="197.5"/>
<line class="z" x1="921" y1="197.5" x2="921" y2="393"/>
<path class="ax" d="M821 393H1021M821 390.5V395.5M871 390.5V395.5M921 390.5V395.5M971 390.5V395.5M1021 390.5V395.5"/>
<g class="ci">
<line class="d" x1="896.7" y1="209" x2="933.9" y2="209"/>
<line class="k" x1="920.4" y1="217.3" x2="936.3" y2="217.3"/>
<line class="d" x1="896.8" y1="225.6" x2="934" y2="225.6"/>
<line class="l" x1="881.9" y1="233.9" x2="971.8" y2="233.9"/>
<line class="k" x1="894.9" y1="242.2" x2="925.1" y2="242.2"/>
<line class="l" x1="856.1" y1="250.5" x2="971.3" y2="250.5"/>
<line class="k" x1="866.9" y1="258.8" x2="915.1" y2="258.8"/>
<line class="l" x1="861" y1="267.1" x2="967.4" y2="267.1"/>
<line class="k" x1="861" y1="275.4" x2="967.4" y2="275.4"/>
<line class="d" x1="872.5" y1="283.7" x2="933.5" y2="283.7"/>
<line class="k" x1="911.3" y1="292.0" x2="925.5" y2="292.0"/>
<line class="l" x1="905.6" y1="300.3" x2="940.4" y2="300.3"/>
<line class="l" x1="940" y1="345" x2="986" y2="345"/>
</g>
<g class="sq">
<rect x="914.25" y="207.95" width="2.1" height="2.1"/>
<rect x="926.65" y="215.55" width="3.5" height="3.5"/>
<rect x="914.4" y="224.6" width="2" height="2"/>
<rect x="926" y="233.1" width="1.6" height="1.6"/>
<rect x="908.75" y="240.95" width="2.5" height="2.5"/>
<rect x="912.9" y="249.7" width="1.6" height="1.6"/>
<rect x="890.2" y="258" width="1.6" height="1.6"/>
<rect x="913.6" y="266.3" width="1.6" height="1.6"/>
<rect x="913.4" y="274.6" width="1.6" height="1.6"/>
<rect x="902.2" y="282.9" width="1.6" height="1.6"/>
<rect x="916.4" y="290" width="4" height="4"/>
<rect x="921.55" y="298.85" width="2.9" height="2.9"/>
<rect x="962.2" y="344.2" width="1.6" height="1.6"/>
</g>
<path class="dm" d="M912.3 308.5L918 305.5L923.7 308.5L918 311.5Z"/>
<path class="dm" d="M940 353L963 349.5L986 353L963 356.5Z"/>
<path class="dm" d="M911.4 386L919.5 382.5L927.6 386L919.5 389.5Z"/>

<!-- ================= PANEL G (bottom-right) ================= -->
<g font-size="6.2">
<text class="b m" y="431.2"><tspan x="624">Gram-negative</tspan><tspan x="700">Gram-positive</tspan><tspan x="797">Std. Mean Difference</tspan><tspan x="938">Std. Mean Difference</tspan></text>
<text class="b" x="527" y="439.2">Study or Subgroup</text>
<text class="b e" y="439.2"><tspan x="622">Mean</tspan><tspan x="648">SD</tspan><tspan x="665">Total</tspan><tspan x="684">Mean</tspan><tspan x="715">SD</tspan><tspan x="732">Total</tspan><tspan x="755">Weight</tspan><tspan x="830">IV, Random, 95% CI</tspan></text>
<text class="b m" x="938" y="439.2">IV, Random, 95% CI</text>

<text x="527" y="449.2">Angeletti 2013</text><text class="e" y="449.2"><tspan x="622">3.8</tspan><tspan x="648">7.17</tspan><tspan x="665">86</tspan><tspan x="684">1.17</tspan><tspan x="715">2.17</tspan><tspan x="732">57</tspan><tspan x="755">4.3%</tspan><tspan x="830">0.41 [0.08, 0.75]</tspan></text>
<text x="527" y="458.1">Chen 2022</text><text class="e" y="458.1"><tspan x="622">28.64</tspan><tspan x="648">4.74</tspan><tspan x="665">81</tspan><tspan x="684">19.75</tspan><tspan x="715">2.87</tspan><tspan x="732">71</tspan><tspan x="755">4.3%</tspan><tspan x="830">3.97 [3.42, 4.53]</tspan></text>
<text x="527" y="467.0">Chen 2022</text><text class="e" y="467.0"><tspan x="622">18.82</tspan><tspan x="648">44.85</tspan><tspan x="665">78</tspan><tspan x="684">5.14</tspan><tspan x="715">20.65</tspan><tspan x="732">25</tspan><tspan x="755">4.3%</tspan><tspan x="830">0.36 [-0.09, 0.81]</tspan></text>
<text x="527" y="475.9">Chen 2023</text><text class="e" y="475.9"><tspan x="622">11.4</tspan><tspan x="648">48.44</tspan><tspan x="665">84</tspan><tspan x="684">4.51</tspan><tspan x="715">21.63</tspan><tspan x="732">37</tspan><tspan x="755">4.3%</tspan><tspan x="830">0.16 [-0.22, 0.55]</tspan></text>
<text x="527" y="484.8">Gai 2018</text><text class="e" y="484.8"><tspan x="622">54.88</tspan><tspan x="648">21.84</tspan><tspan x="665">44</tspan><tspan x="684">21.13</tspan><tspan x="715">1.3</tspan><tspan x="732">88</tspan><tspan x="755">4.3%</tspan><tspan x="830">2.69 [2.20, 3.18]</tspan></text>
<text x="527" y="493.7">Gao 2014</text><text class="e" y="493.7"><tspan x="622">7.70</tspan><tspan x="648">4.00</tspan><tspan x="665">42</tspan><tspan x="684">8.04</tspan><tspan x="715">4.65</tspan><tspan x="732">31</tspan><tspan x="755">4.2%</tspan><tspan x="830">-0.24 [-0.71, 0.22]</tspan></text>
<text x="527" y="502.6">Gao 2017</text><text class="e" y="502.6"><tspan x="622">7.28</tspan><tspan x="648">3.25</tspan><tspan x="665">47</tspan><tspan x="684">3.84</tspan><tspan x="715">2.48</tspan><tspan x="732">45</tspan><tspan x="755">4.3%</tspan><tspan x="830">1.18 [0.73, 1.62]</tspan></text>
<text x="527" y="511.5">Hu 2021</text><text class="e" y="511.5"><tspan x="622">29.59</tspan><tspan x="648">36.25</tspan><tspan x="665">23</tspan><tspan x="684">22.08</tspan><tspan x="715">34.84</tspan><tspan x="732">12</tspan><tspan x="755">4.2%</tspan><tspan x="830">0.20 [-0.50, 0.90]</tspan></text>
<text x="527" y="520.4">Huang 2022</text><text class="e" y="520.4"><tspan x="622">1.69</tspan><tspan x="648">3.1</tspan><tspan x="665">46</tspan><tspan x="684">0.45</tspan><tspan x="715">2.69</tspan><tspan x="732">20</tspan><tspan x="755">4.3%</tspan><tspan x="830">0.50 [-0.03, 1.03]</tspan></text>
<text x="527" y="529.3">Lang 2017</text><text class="e" y="529.3"><tspan x="622">43.15</tspan><tspan x="648">7.36</tspan><tspan x="665">30</tspan><tspan x="684">24.01</tspan><tspan x="715">4.26</tspan><tspan x="732">20</tspan><tspan x="755">4.0%</tspan><tspan x="830">2.98 [2.16, 3.81]</tspan></text>
<text x="527" y="538.2">Liu 2014</text><text class="e" y="538.2"><tspan x="622">65.52</tspan><tspan x="648">49.23</tspan><tspan x="665">75</tspan><tspan x="684">5.38</tspan><tspan x="715">4.37</tspan><tspan x="732">51</tspan><tspan x="755">4.3%</tspan><tspan x="830">1.56 [1.16, 1.97]</tspan></text>
<text x="527" y="547.1">Liu 2017</text><text class="e" y="547.1"><tspan x="622">1.65</tspan><tspan x="648">0.14</tspan><tspan x="665">88</tspan><tspan x="684">1.7</tspan><tspan x="715">0.12</tspan><tspan x="732">32</tspan><tspan x="755">4.3%</tspan><tspan x="830">1.10 [0.67, 1.53]</tspan></text>
<text x="527" y="556.0">Liu 2018</text><text class="e" y="556.0"><tspan x="622">4.67</tspan><tspan x="648">1.83</tspan><tspan x="665">88</tspan><tspan x="684">1.78</tspan><tspan x="715">0.79</tspan><tspan x="732">32</tspan><tspan x="755">4.3%</tspan><tspan x="830">2.17 [1.64, 2.69]</tspan></text>
<text x="527" y="564.9">Liu' 2017</text><text class="e" y="564.9"><tspan x="622">23.64</tspan><tspan x="648">3.18</tspan><tspan x="665">91</tspan><tspan x="684">8.18</tspan><tspan x="715">2.89</tspan><tspan x="732">56</tspan><tspan x="755">4.2%</tspan><tspan x="830">6.17 [5.38, 6.96]</tspan></text>
<text x="527" y="573.8">Meng 2019</text><text class="e" y="573.8"><tspan x="622">25.20</tspan><tspan x="648">0.46</tspan><tspan x="665">45</tspan><tspan x="684">17.57</tspan><tspan x="715">4.57</tspan><tspan x="732">24</tspan><tspan x="755">4.2%</tspan><tspan x="830">2.35 [1.71, 2.99]</tspan></text>
<text x="527" y="582.7">Nakagima 2014</text><text class="e" y="582.7"><tspan x="622">149.78</tspan><tspan x="648">198.88</tspan><tspan x="665">6</tspan><tspan x="684">18.8</tspan><tspan x="715">39.17</tspan><tspan x="732">8</tspan><tspan x="755">4.0%</tspan><tspan x="830">0.94 [-0.19, 2.08]</tspan></text>
<text x="527" y="591.6">Peng 2020</text><text class="e" y="591.6"><tspan x="622">1.6</tspan><tspan x="648">0.38</tspan><tspan x="665">48</tspan><tspan x="684">0.75</tspan><tspan x="715">0.32</tspan><tspan x="732">32</tspan><tspan x="755">4.2%</tspan><tspan x="830">2.36 [1.77, 2.94]</tspan></text>
<text x="527" y="600.5">Wu 2022</text><text class="e" y="600.5"><tspan x="622">3.79</tspan><tspan x="648">0.57</tspan><tspan x="665">46</tspan><tspan x="684">1.72</tspan><tspan x="715">0.48</tspan><tspan x="732">28</tspan><tspan x="755">4.2%</tspan><tspan x="830">3.85 [3.06, 4.65]</tspan></text>
<text x="527" y="609.4">Yunus 2018</text><text class="e" y="609.4"><tspan x="622">21.69</tspan><tspan x="648">42.45</tspan><tspan x="665">90</tspan><tspan x="684">13.68</tspan><tspan x="715">24.84</tspan><tspan x="732">90</tspan><tspan x="755">4.3%</tspan><tspan x="830">0.24 [-0.06, 0.53]</tspan></text>
<text x="527" y="618.3">Zhang 2018</text><text class="e" y="618.3"><tspan x="622">9.62</tspan><tspan x="648">0.98</tspan><tspan x="665">74</tspan><tspan x="684">7.61</tspan><tspan x="715">0.7</tspan><tspan x="732">126</tspan><tspan x="755">4.3%</tspan><tspan x="830">2.76 [2.36, 3.15]</tspan></text>
<text x="527" y="627.2">Zhou 2016</text><text class="e" y="627.2"><tspan x="622">5.69</tspan><tspan x="648">0.78</tspan><tspan x="665">83</tspan><tspan x="684">1.01</tspan><tspan x="715">0.26</tspan><tspan x="732">29</tspan><tspan x="755">4.2%</tspan><tspan x="830">5.79 [4.91, 6.67]</tspan></text>
<text class="b" x="527" y="645.2">Total (95% CI)</text><text class="b e" y="645.2"><tspan x="665">1283</tspan><tspan x="732">922</tspan><tspan x="760">100.0%</tspan><tspan x="830">1.95 [1.32, 2.59]</tspan></text>
<text x="527" y="654.2">Heterogeneity: Tau² = 2.13; Chi² = 889.10, df = 20 (P &lt; 0.00001); I² = 97%</text>
<text x="527" y="663.2">Test for overall effect: Z = 6.00 (P &lt; 0.00001)</text>

<text class="m" y="657.2"><tspan x="838">-10</tspan><tspan x="888">-5</tspan><tspan x="938">0</tspan><tspan x="988">5</tspan><tspan x="1037">10</tspan></text>
<text class="e" x="932" y="667.2">Favours [ Gram-negative ]</text>
<text x="944" y="667.2">Favours [ Gram-positive ]</text>
</g>
<line class="hd" x1="524" y1="441.5" x2="1045" y2="441.5"/>
<line class="z" x1="938" y1="441.5" x2="938" y2="649"/>
<path class="ax" d="M837.5 649H1038.5M837.5 646.5V651.5M887.75 646.5V651.5M938 646.5V651.5M988.25 646.5V651.5M1038.5 646.5V651.5"/>
<g class="ci">
<line class="k" x1="938.8" y1="447.0" x2="945.5" y2="447.0"/>
<line class="k" x1="972.4" y1="455.9" x2="983.5" y2="455.9"/>
<line class="l" x1="937.1" y1="464.8" x2="946.1" y2="464.8"/>
<line class="d" x1="935.8" y1="473.7" x2="943.5" y2="473.7"/>
<line class="d" x1="960.1" y1="482.6" x2="970.0" y2="482.6"/>
<line class="l" x1="930.9" y1="491.5" x2="940.2" y2="491.5"/>
<line class="d" x1="945.3" y1="500.4" x2="954.3" y2="500.4"/>
<line class="l" x1="933.0" y1="509.3" x2="947.0" y2="509.3"/>
<line class="k" x1="937.7" y1="518.2" x2="948.4" y2="518.2"/>
<line class="l" x1="959.7" y1="527.1" x2="976.3" y2="527.1"/>
<line class="k" x1="949.7" y1="536.0" x2="957.8" y2="536.0"/>
<line class="d" x1="944.7" y1="544.9" x2="953.4" y2="544.9"/>
<line class="k" x1="956.5" y1="553.8" x2="965.0" y2="553.8"/>
<line class="g" x1="992.1" y1="562.7" x2="1008.0" y2="562.7"/>
<line class="g" x1="955.2" y1="571.6" x2="968.0" y2="571.6"/>
<line class="k" x1="936.1" y1="580.5" x2="958.9" y2="580.5"/>
<line class="l" x1="955.8" y1="589.4" x2="967.5" y2="589.4"/>
<line class="k" x1="968.8" y1="598.3" x2="984.7" y2="598.3"/>
<line class="l" x1="937.4" y1="607.2" x2="943.3" y2="607.2"/>
<line class="k" x1="961.7" y1="616.1" x2="969.7" y2="616.1"/>
<line class="l" x1="987.3" y1="625.0" x2="1005.0" y2="625.0"/>
</g>
<g class="sq">
<rect x="940.9" y="445.8" width="2.4" height="2.4"/>
<rect x="976.7" y="454.7" width="2.4" height="2.4"/>
<rect x="940.4" y="463.6" width="2.4" height="2.4"/>
<rect x="938.4" y="472.5" width="2.4" height="2.4"/>
<rect x="963.8" y="481.4" width="2.4" height="2.4"/>
<rect x="934.4" y="490.3" width="2.4" height="2.4"/>
<rect x="948.7" y="499.2" width="2.4" height="2.4"/>
<rect x="938.8" y="508.1" width="2.4" height="2.4"/>
<rect x="941.8" y="517.0" width="2.4" height="2.4"/>
<rect x="966.8" y="525.9" width="2.4" height="2.4"/>
<rect x="952.5" y="534.8" width="2.4" height="2.4"/>
<rect x="947.9" y="543.7" width="2.4" height="2.4"/>
<rect x="958.6" y="552.6" width="2.4" height="2.4"/>
<rect x="998.8" y="561.5" width="2.4" height="2.4"/>
<rect x="960.4" y="570.4" width="2.4" height="2.4"/>
<rect x="946.2" y="579.3" width="2.4" height="2.4"/>
<rect x="960.5" y="588.2" width="2.4" height="2.4"/>
<rect x="975.5" y="597.1" width="2.4" height="2.4"/>
<rect x="939.2" y="606.0" width="2.4" height="2.4"/>
<rect x="964.5" y="614.9" width="2.4" height="2.4"/>
<rect x="995.0" y="623.8" width="2.4" height="2.4"/>
</g>
<path class="dm" d="M951.3 643L957.6 639L964 643L957.6 647Z"/>
</svg>
</body></html>
